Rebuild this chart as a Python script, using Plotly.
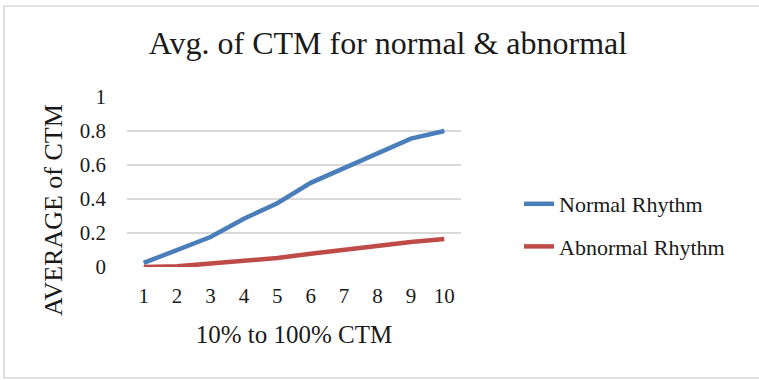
import plotly.graph_objects as go

# Average CTM per 10% step, normal vs abnormal rhythm
steps = [1, 2, 3, 4, 5, 6, 7, 8, 9, 10]
normal_rhythm = [0.024, 0.10, 0.176, 0.284, 0.375, 0.495, 0.58, 0.672, 0.755, 0.80]
abnormal_rhythm = [0.0, 0.004, 0.02, 0.034, 0.053, 0.078, 0.102, 0.127, 0.147, 0.165]
series_names = ["Normal Rhythm", "Abnormal Rhythm"]
series_colors = ["#4A7EBB", "#BE4B48"]
y_ticks = [0, 0.2, 0.4, 0.6, 0.8, 1]
y_tick_text = ["0", "0.2", "0.4", "0.6", "0.8", "1"]

W, H = 759, 380
L, R, T, B = 127, 298, 97, 113
PW, PH = W - L - R, H - T - B

def px_x(px):
    return (px - L) / PW

def px_y(py):
    return (H - B - py) / PH

SERIF = "Liberation Serif"
TXT = "#1a1a1a"

fig = go.Figure()
for name, vals, col in zip(series_names, [normal_rhythm, abnormal_rhythm], series_colors):
    fig.add_trace(go.Scatter(
        x=steps, y=vals, name=name, mode="lines", legendgroup=name,
        line=dict(color=col, width=4.5),
    ))

fig.update_layout(
    width=W, height=H,
    margin=dict(l=L, r=R, t=T, b=B),
    paper_bgcolor="white", plot_bgcolor="white",
    font=dict(family=SERIF, color=TXT),
    title=dict(
        text="Avg. of CTM for normal & abnormal",
        x=388 / W, xanchor="center", xref="container",
        y=1 - 32 / H, yanchor="top", yref="container",
        font=dict(family=SERIF, size=32, color=TXT),
    ),
    xaxis=dict(
        range=[0.5, 10.5], tickmode="array", tickvals=steps,
        ticktext=[str(s) for s in steps],
        showgrid=False, zeroline=False, showline=False,
        ticks="", ticklabelstandoff=14,
        tickfont=dict(family=SERIF, size=21, color=TXT),
        title=dict(text="10% to 100% CTM", standoff=18,
                   font=dict(family=SERIF, size=25, color=TXT)),
    ),
    yaxis=dict(
        range=[0, 1], tickmode="array", tickvals=y_ticks, ticktext=y_tick_text,
        showgrid=True, gridcolor="#d9d9d9", gridwidth=1.5,
        zeroline=False, showline=False, ticks="",
        ticklabelstandoff=20,
        tickfont=dict(family=SERIF, size=21, color=TXT),
    ),
    legend=dict(
        x=px_x(519), xanchor="left",
        y=px_y(183), yanchor="top",
        font=dict(family=SERIF, size=22, color=TXT),
        tracegroupgap=11, bgcolor="rgba(0,0,0,0)",
    ),
    annotations=[dict(
        text="AVERAGE of CTM", textangle=-90,
        x=px_x(53), y=px_y(210), xref="paper", yref="paper",
        xanchor="center", yanchor="middle", showarrow=False,
        font=dict(family=SERIF, size=26, color=TXT),
    )],
    shapes=[dict(
        type="rect", xref="paper", yref="paper",
        x0=px_x(4), x1=px_x(W + 30), y0=px_y(378), y1=px_y(6),
        line=dict(color="#d9d9d9", width=1.5), fillcolor="rgba(0,0,0,0)",
        layer="below",
    )],
    showlegend=True,
)

fig.write_html("out.html")
